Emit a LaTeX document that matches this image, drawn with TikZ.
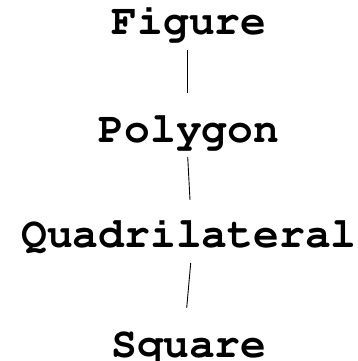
\documentclass[tikz,border=0pt]{standalone}
\usepackage[T1]{fontenc}
\usepackage{courier}
\usetikzlibrary{calc}
\tikzset{
  label/.style={font=\ttfamily\bfseries\fontsize{43}{50}\selectfont, inner sep=0pt, anchor=base},
  link/.style={line width=0.9pt, black}
}
\begin{document}
\begin{tikzpicture}[x=1pt,y=1pt]
  \useasboundingbox (0,0) rectangle (358,361);
  \node[label] (fig)  at (189,326) {Figure};
  \node[label] (poly) at (189,218) {Polygon};
  \node[label] (quad) at (189,113) {Quadrilateral};
  \node[label] (sq)   at (189,4)   {Square};
  \draw[link] ($(fig.base)+(-1.7,-15)$)  -- ($(poly.base)+(-1.7,50)$);
  \draw[link] ($(poly.base)+(-1.3,-14)$) -- ($(quad.base)+(1,48)$);
  \draw[link] ($(quad.base)+(1.7,-15)$)  -- ($(sq.base)+(-2.3,49)$);
\end{tikzpicture}
\end{document}
